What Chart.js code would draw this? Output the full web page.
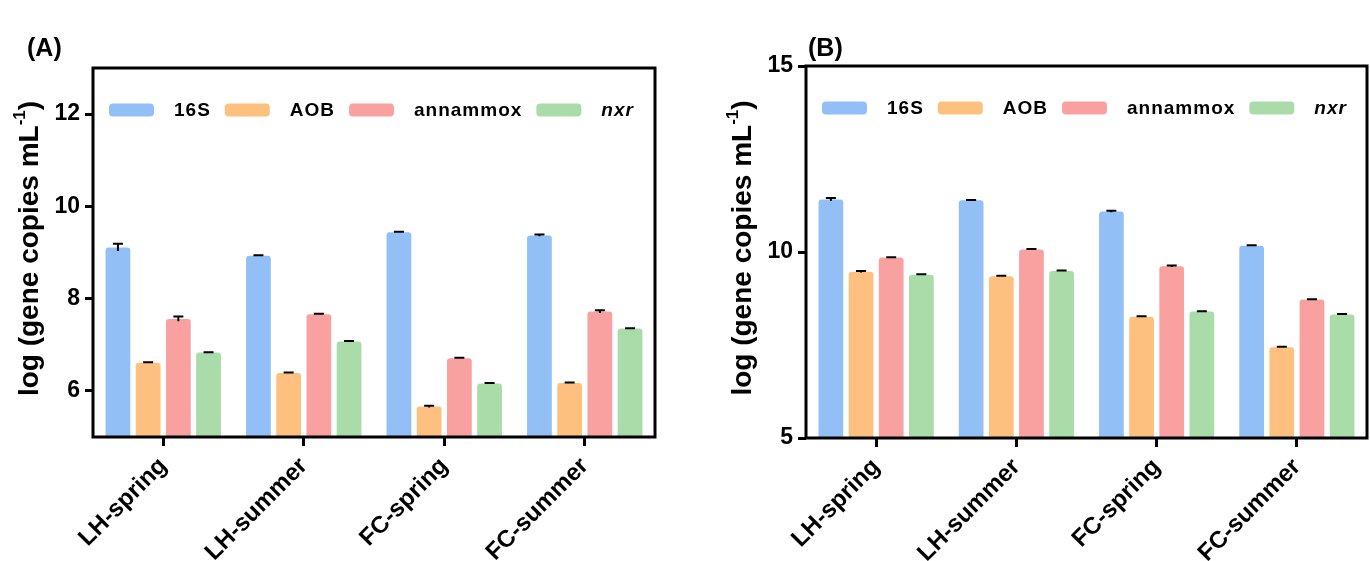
<!DOCTYPE html>
<html>
<head>
<meta charset="utf-8">
<script src="https://cdn.jsdelivr.net/npm/chart.js@4.4.1/dist/chart.umd.min.js"></script>
<style>
  body { margin: 0; background: #fff; width: 1370px; height: 561px; position: relative; overflow: hidden; }
  .panel { position: absolute; top: 0; width: 685px; height: 561px; }
  #wrapA { left: 0; }
  #wrapB { left: 685px; }
</style>
</head>
<body>
<div class="panel" id="wrapA"><canvas id="chartA" width="685" height="561"></canvas></div>
<div class="panel" id="wrapB"><canvas id="chartB" width="685" height="561"></canvas></div>
<script>
const sites = ['LH-spring', 'LH-summer', 'FC-spring', 'FC-summer'];
const genes = ['16S', 'AOB', 'annammox', 'nxr'];
const geneColors = ['#91bff6', '#fdc07f', '#f9a1a0', '#aadcaa'];

// (A) values, log gene copies
const a16S     = [9.11, 8.93, 9.44, 9.37];
const aAOB     = [6.61, 6.39, 5.66, 6.17];
const aAnammox = [7.56, 7.66, 6.71, 7.72];
const aNxr     = [6.83, 7.07, 6.16, 7.35];
const a16SErr     = [0.08, 0.01, 0.01, 0.02];
const aAOBErr     = [0.01, 0.01, 0.02, 0.01];
const aAnammoxErr = [0.05, 0.01, 0.01, 0.03];
const aNxrErr     = [0.01, 0.01, 0.01, 0.01];
const aTicks = [6, 8, 10, 12];

// (B) values
const b16S     = [11.41, 11.39, 11.09, 10.17];
const bAOB     = [9.47, 9.35, 8.26, 7.44];
const bAnammox = [9.85, 10.07, 9.62, 8.72];
const bNxr     = [9.39, 9.49, 8.40, 8.32];
const b16SErr     = [0.04, 0.01, 0.02, 0.01];
const bAOBErr     = [0.02, 0.01, 0.01, 0.01];
const bAnammoxErr = [0.01, 0.01, 0.02, 0.01];
const bNxrErr     = [0.01, 0.01, 0.01, 0.01];
const bTicks = [5, 10, 15];

const FONT = '"Liberation Sans", Arial, sans-serif';

// legend drawn inside the plot box
const insideLegend = {
  id: 'insideLegend',
  afterDraw(chart, args, opts) {
    const ctx = chart.ctx, ca = chart.chartArea;
    let x = ca.left + opts.x;
    const y = ca.top + opts.y;
    ctx.save();
    chart.data.datasets.forEach(ds => {
      ctx.fillStyle = ds.backgroundColor;
      ctx.beginPath();
      ctx.roundRect(x, y - 6.5, 45, 13, 4);
      ctx.fill();
      x += 45 + 20;
      ctx.font = (ds.label === 'nxr' ? 'italic bold ' : 'bold ') + '19px ' + FONT;
      ctx.letterSpacing = '1px';
      ctx.fillStyle = '#000';
      ctx.textAlign = 'left';
      ctx.textBaseline = 'middle';
      ctx.fillText(ds.label, x, y + 1);
      x += ctx.measureText(ds.label).width + 14;
    });
    ctx.restore();
  }
};

// error bars, frame, y title and panel letter
const decorations = {
  id: 'decorations',
  afterDatasetsDraw(chart, args, opts) {
    const ctx = chart.ctx, ys = chart.scales.y;
    ctx.save();
    ctx.strokeStyle = '#000';
    ctx.lineWidth = 2;
    chart.data.datasets.forEach((ds, i) => {
      chart.getDatasetMeta(i).data.forEach((bar, j) => {
        const top = ys.getPixelForValue(ds.data[j] + ds.err[j]);
        const bot = ys.getPixelForValue(ds.data[j] - ds.err[j]);
        ctx.beginPath();
        ctx.moveTo(bar.x, bot); ctx.lineTo(bar.x, top);
        ctx.moveTo(bar.x - 5, top); ctx.lineTo(bar.x + 5, top);
        ctx.stroke();
      });
    });
    ctx.restore();
  },
  afterDraw(chart, args, opts) {
    const ctx = chart.ctx, ca = chart.chartArea;
    ctx.save();
    ctx.strokeStyle = '#000';
    ctx.lineWidth = 3;
    ctx.strokeRect(ca.left, ca.top, ca.right - ca.left, ca.bottom - ca.top);

    // panel letter
    ctx.fillStyle = '#000';
    ctx.font = 'bold 25px ' + FONT;
    ctx.textAlign = 'left';
    ctx.textBaseline = 'alphabetic';
    ctx.fillText(opts.panel, opts.panelX, 56);

    // y axis title with superscript
    const main = 'log (gene copies mL', sup = '-1', end = ')';
    const fMain = 'bold 28px ' + FONT, fSup = 'bold 17px ' + FONT;
    ctx.font = fMain;
    const w1 = ctx.measureText(main).width, w3 = ctx.measureText(end).width;
    ctx.font = fSup;
    const w2 = ctx.measureText(sup).width;
    const cy = (ca.top + ca.bottom) / 2 - 4;
    ctx.translate(opts.titleX, cy);
    ctx.rotate(-Math.PI / 2);
    let x0 = -(w1 + w2 + w3) / 2;
    ctx.font = fMain;
    ctx.fillText(main, x0, 10);
    ctx.font = fSup;
    ctx.fillText(sup, x0 + w1, -3);
    ctx.font = fMain;
    ctx.fillText(end, x0 + w1 + w2, 10);
    ctx.restore();
  }
};

function makeChart(id, values, errs, yMin, yMax, yTicks, cfg) {
  const datasets = genes.map((g, i) => ({
    label: g,
    data: values[i],
    err: errs[i],
    backgroundColor: geneColors[i],
    borderRadius: { topLeft: 3, topRight: 3 },
    borderSkipped: 'start',
    categoryPercentage: 0.86,
    barPercentage: 0.82
  }));
  const yFont = { family: FONT, size: 23, weight: 'bold' };
  const xFont = { family: FONT, size: 24, weight: 'bold' };
  return new Chart(document.getElementById(id).getContext('2d'), {
    type: 'bar',
    data: { labels: sites, datasets: datasets },
    options: {
      responsive: false,
      animation: false,
      layout: { padding: { top: cfg.top, right: cfg.right, left: 0, bottom: 0 } },
      plugins: {
        legend: { display: false },
        tooltip: { enabled: false },
        insideLegend: { x: 16, y: 42 },
        decorations: { panel: cfg.panel, panelX: cfg.panelX, titleX: cfg.titleX }
      },
      scales: {
        x: {
          grid: { drawOnChartArea: false, offset: false, tickLength: 9, tickWidth: 3, tickColor: '#000' },
          border: { display: false },
          ticks: { color: '#000', font: xFont, minRotation: 45, maxRotation: 45, padding: 6 },
          afterFit: s => { s.height = cfg.xHeight; }
        },
        y: {
          min: yMin,
          max: yMax,
          afterBuildTicks: s => { s.ticks = yTicks.map(v => ({ value: v })); },
          grid: { drawOnChartArea: false, tickLength: 8, tickWidth: 3, tickColor: '#000' },
          border: { display: false },
          ticks: { color: '#000', font: yFont, padding: 5 },
          afterFit: s => { s.width = cfg.yWidth; }
        }
      }
    },
    plugins: [insideLegend, decorations]
  });
}

makeChart('chartA',
  [a16S, aAOB, aAnammox, aNxr],
  [a16SErr, aAOBErr, aAnammoxErr, aNxrErr],
  5, 13, aTicks,
  { panel: '(A)', panelX: 27, titleX: 28, top: 68, right: 30, yWidth: 93, xHeight: 124 });

makeChart('chartB',
  [b16S, bAOB, bAnammox, bNxr],
  [b16SErr, bAOBErr, bAnammoxErr, bNxrErr],
  5, 15, bTicks,
  { panel: '(B)', panelX: 123, titleX: 56, top: 66, right: 3, yWidth: 121, xHeight: 123 });
</script>
</body>
</html>
